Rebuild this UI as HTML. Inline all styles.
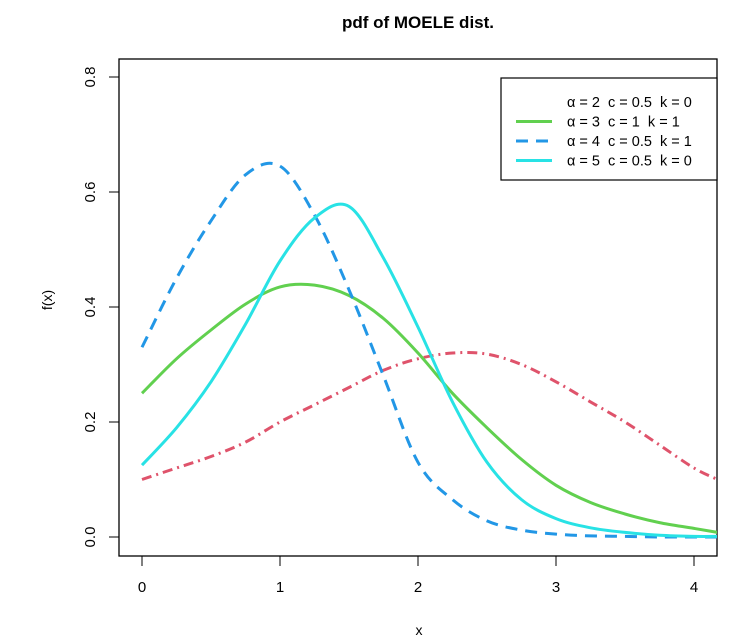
<!DOCTYPE html>
<html><head><meta charset="utf-8"><style>body{margin:0;background:#fff}svg{display:block;font-family:"Liberation Sans",Arial,sans-serif}</style></head>
<body>
<svg id="c" width="741" height="642"></svg>
<script>
const xs=[0,0.25,0.5,0.75,1,1.25,1.5,1.75,2,2.25,2.5,2.75,3,3.25,3.5,3.75,4,4.17];
const seriesLabels=["α = 2  c = 0.5  k = 0","α = 3  c = 1  k = 1","α = 4  c = 0.5  k = 1","α = 5  c = 0.5  k = 0"];
const red=[0.1,0.12,0.14,0.165,0.2,0.23,0.26,0.29,0.31,0.32,0.318,0.3,0.27,0.235,0.2,0.16,0.12,0.1];
const green=[0.25,0.31,0.36,0.405,0.435,0.438,0.42,0.38,0.32,0.25,0.19,0.135,0.09,0.06,0.04,0.025,0.015,0.008];
const blue=[0.33,0.45,0.55,0.63,0.645,0.56,0.43,0.28,0.13,0.065,0.028,0.012,0.005,0.002,0.001,0,0,0];
const cyan=[0.125,0.19,0.27,0.37,0.48,0.555,0.575,0.485,0.365,0.235,0.13,0.065,0.032,0.016,0.008,0.003,0.001,0.001];
const xTicks=[0,1,2,3,4];
const yTicks=[0,0.2,0.4,0.6,0.8];
const X=v=>142+v*138, Y=v=>537-v*575;
const svg=document.getElementById('c');const NS='http://www.w3.org/2000/svg';
function mk(t,a,p){const e=document.createElementNS(NS,t);for(const k in a)e.setAttribute(k,a[k]);(p||svg).appendChild(e);return e;}
function smooth(pts){let d='M'+pts[0][0]+' '+pts[0][1];for(let i=0;i<pts.length-1;i++){const p0=pts[Math.max(i-1,0)],p1=pts[i],p2=pts[i+1],p3=pts[Math.min(i+2,pts.length-1)];
const c1=[p1[0]+(p2[0]-p0[0])/6,p1[1]+(p2[1]-p0[1])/6],c2=[p2[0]-(p3[0]-p1[0])/6,p2[1]-(p3[1]-p1[1])/6];
d+=` C${c1[0].toFixed(1)} ${c1[1].toFixed(1)} ${c2[0].toFixed(1)} ${c2[1].toFixed(1)} ${p2[0].toFixed(1)} ${p2[1].toFixed(1)}`;}return d;}
const box=mk('rect',{x:119,y:59,width:598,height:497,fill:'none',stroke:'#000','stroke-width':1.3});


const t=mk('text',{x:418,y:28,'text-anchor':'middle','font-size':17,'font-weight':'bold'});t.textContent='pdf of MOELE dist.';


const xl=mk('text',{x:419,y:635,'text-anchor':'middle','font-size':14});xl.textContent='x';


const yl=mk('text',{x:52,y:300,'text-anchor':'middle','font-size':14,transform:'rotate(-90 52 300)'});yl.textContent='f(x)';


xTicks.forEach(v=>{mk('line',{x1:X(v),x2:X(v),y1:556,y2:566,stroke:'#000'});const e=mk('text',{x:X(v),y:592,'text-anchor':'middle','font-size':15});e.textContent=v;

});
yTicks.forEach(v=>{mk('line',{x1:109,x2:119,y1:Y(v),y2:Y(v),stroke:'#000'});const e=mk('text',{x:95,y:Y(v),'text-anchor':'middle','font-size':15,transform:`rotate(-90 95 ${Y(v)})`});e.textContent=v.toFixed(1);

});
const cp=mk('clipPath',{id:'cp'});mk('rect',{x:119,y:59,width:598,height:497},cp);
const styles=[['#DF536B','10 5 2 5'],['#61D04F',''],['#2297E6','12 8'],['#28E2E5','']];
[red,green,blue,cyan].forEach((s,i)=>{const d=smooth(s.map((v,j)=>[X(xs[j]),Y(v)]));
const p=mk('path',{d,fill:'none',stroke:styles[i][0],'stroke-width':3,'stroke-dasharray':styles[i][1],'clip-path':'url(#cp)','stroke-linejoin':'round'});

});
const lg=mk('g',{});


mk('rect',{x:501,y:78,width:216,height:102,fill:'#fff',stroke:'#000','stroke-width':1.2},lg);
seriesLabels.forEach((l,i)=>{const y=102+i*19.5;if(i>0)mk('line',{x1:516,x2:552,y1:y,y2:y,stroke:styles[i][0],'stroke-width':3,'stroke-dasharray':styles[i][1]},lg);
const e=mk('text',{x:567,y:y+5,'font-size':14.5,'xml:space':'preserve',style:'white-space:pre'},lg);e.textContent=l;

});
</script>
</body></html>
